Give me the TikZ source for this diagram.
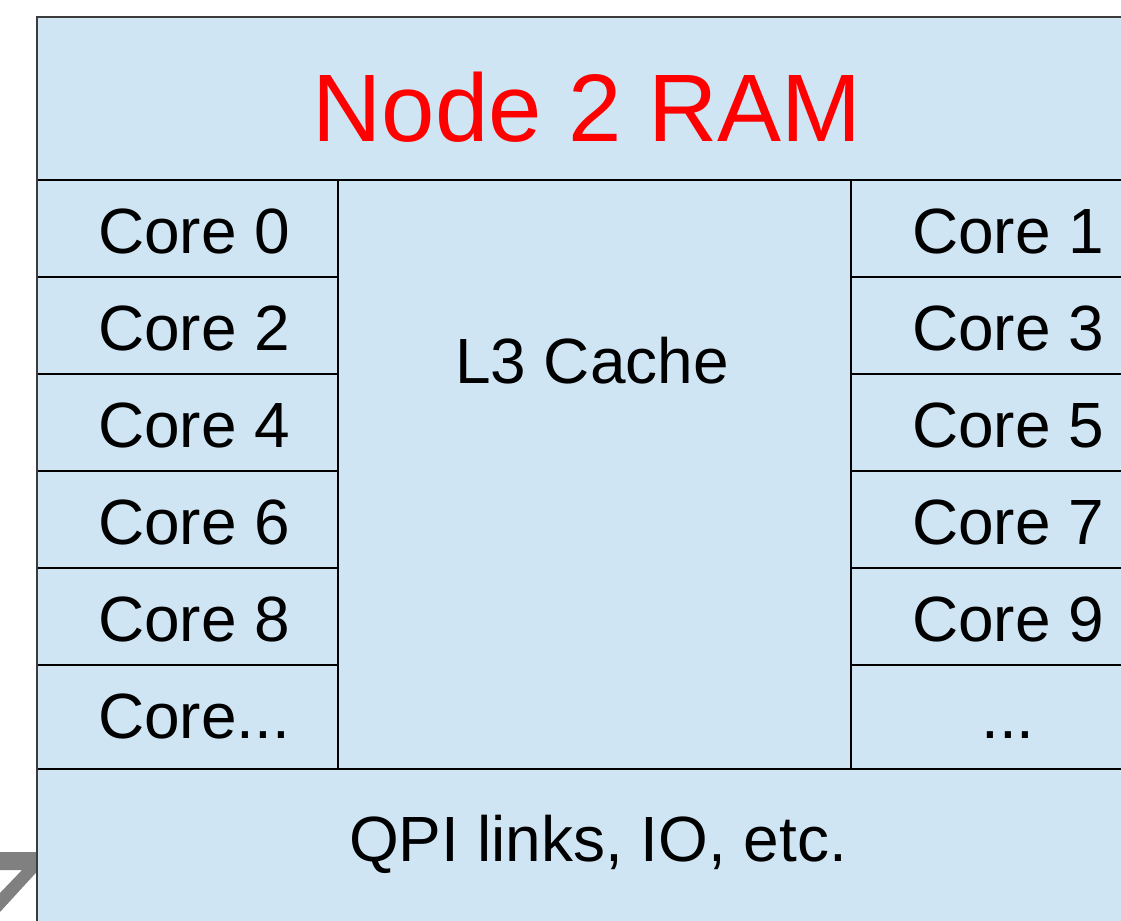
\documentclass[tikz,border=0pt]{standalone}
\usepackage{fontspec}
\setmainfont{Liberation Sans}
\definecolor{cellblue}{RGB}{207,229,243}
\definecolor{arrowgray}{RGB}{128,128,128}
\definecolor{rimgray}{RGB}{60,60,60}
\tikzset{
  cellbox/.style={draw=black, line width=0.8pt, fill=cellblue},
  celltext/.style={anchor=base, inner sep=0pt, font=\fontsize{36.4}{40}\selectfont},
}
\begin{document}
\begin{tikzpicture}[x=0.02cm, y=-0.02cm]
    \useasboundingbox (0,0) rectangle (1121,920);
    \clip (0,0) rectangle (1121,920);

    % Freccia grigia in basso a sinistra
    \fill[arrowgray] (0,852) -- (55,852) -- (0,912) -- (0,893) -- (22,870) -- (0,870) -- cycle;

    % Box del nodo
    \fill[cellblue] (37,17) rectangle (1150,960);
    \draw[line width=0.8pt] (37,180) -- (1150,180); % sotto la RAM
    \draw[line width=0.8pt] (37,769) -- (1150,769); % sopra QPI

    \node[celltext, red, font=\fontsize{54.6}{60}\selectfont] (ram) at (587,141) {Node 2 RAM};

    % Colonne dei core
    \foreach \i in {0,...,4} {
        \pgfmathtruncatemacro{\lft}{2*\i}
        \pgfmathtruncatemacro{\rgt}{2*\i+1}
        \draw[cellbox] (37,180+97*\i) rectangle (338,277+97*\i);
        \draw[cellbox] (851,180+97*\i) rectangle (1150,277+97*\i);
        \node[celltext] (core\lft) at (194,253+97*\i) {Core \lft};
        \node[celltext] (core\rgt) at (1008,253+97*\i) {Core \rgt};
    }
    \draw[cellbox] (37,665) rectangle (338,769);
    \draw[cellbox] (851,665) rectangle (1150,769);
    \node[celltext] (coremore) at (194,738) {Core...};
    \node[celltext] (coredots) at (1008,738) {...};

    \node[celltext] (cache) at (592,383) {L3 Cache};
    \node[celltext] (qpi) at (598,861) {QPI links, IO, etc.};

    % Bordo esterno
    \draw[rimgray, line width=1.1pt] (37,960) -- (37,17) -- (1150,17);
\end{tikzpicture}
\end{document}
